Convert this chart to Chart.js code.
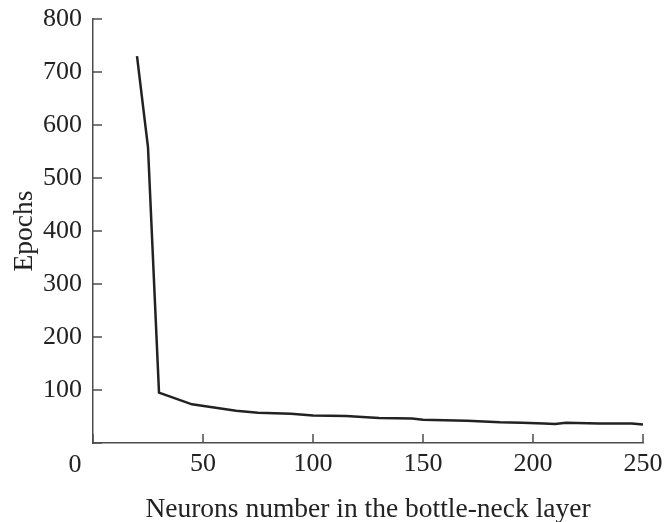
<!DOCTYPE html>
<html>
<head>
<meta charset="utf-8">
<script src="https://cdn.jsdelivr.net/npm/chart.js@4"></script>
<style>
  body { margin: 0; background: #fff; }
  #wrap { width: 665px; height: 522px; }
</style>
</head>
<body>
<div id="wrap"><canvas id="epochChart"></canvas></div>
<script>
// Data
const neurons = [20, 25, 30, 45, 55, 65, 75, 90, 100, 115, 130, 145, 150, 170, 175, 185, 195, 205, 210, 215, 230, 245, 250];
const epochs = [730, 558, 95, 73, 67, 61, 57, 55, 52, 51, 47, 46, 44, 42, 41, 39, 38, 37, 36, 38, 37, 37, 35];
const xTicks = [0, 50, 100, 150, 200, 250];
const yTicks = [0, 100, 200, 300, 400, 500, 600, 700, 800];

const axisColor = "#4d4d4d";
const textColor = "#222";
const serif = "'Liberation Serif', 'DejaVu Serif', serif";

// Draw tick marks pointing into the plot, plus the lone "0" at the corner
const innerTicks = {
  id: "innerTicks",
  afterDraw(chart) {
    const c = chart.ctx;
    const x = chart.scales.x;
    const y = chart.scales.y;
    const len = 9;
    c.save();
    c.strokeStyle = axisColor;
    c.lineWidth = 1.5;
    c.beginPath();
    xTicks.forEach((v) => {
      const px = x.getPixelForValue(v);
      c.moveTo(px, y.bottom);
      c.lineTo(px, y.bottom - len);
    });
    yTicks.forEach((v) => {
      const py = y.getPixelForValue(v);
      c.moveTo(x.left, py);
      c.lineTo(x.left + len, py);
    });
    c.stroke();
    c.fillStyle = textColor;
    c.font = "26px " + serif;
    c.textAlign = "center";
    c.textBaseline = "middle";
    c.fillText("0", x.getPixelForValue(0) - 18, y.bottom + 22);
    c.restore();
  },
};

const ctx = document.getElementById("epochChart").getContext("2d");
new Chart(ctx, {
  type: "line",
  data: {
    labels: neurons,
    datasets: [
      {
        data: neurons.map((n, i) => ({ x: n, y: epochs[i] })),
        borderColor: "#222",
        borderWidth: 2.5,
        pointRadius: 0,
        tension: 0,
        fill: false,
      },
    ],
  },
  options: {
    responsive: true,
    maintainAspectRatio: false,
    animation: false,
    layout: { padding: { left: 11, right: 22, top: 19, bottom: -2 } },
    plugins: { legend: { display: false }, tooltip: { enabled: false } },
    scales: {
      x: {
        type: "linear",
        min: 0,
        max: 250,
        afterBuildTicks: (s) => { s.ticks = xTicks.map((v) => ({ value: v })); },
        afterFit: (s) => { s.height = 81; s.paddingLeft = 0; s.paddingRight = 0; },
        grid: { display: false, drawTicks: false },
        border: { display: true, color: axisColor, width: 1.5 },
        ticks: {
          color: textColor,
          font: { family: serif, size: 26 },
          padding: 6,
          maxRotation: 0,
          callback: (v) => (v === 0 ? "" : v),
        },
        title: {
          display: true,
          text: "Neurons number in the bottle-neck layer",
          color: textColor,
          font: { family: serif, size: 27.5, lineHeight: 1 },
          padding: { top: 15, bottom: 0 },
        },
      },
      y: {
        min: 0,
        max: 800,
        afterBuildTicks: (s) => { s.ticks = yTicks.map((v) => ({ value: v })); },
        afterFit: (s) => { s.width = 82; s.paddingTop = 0; s.paddingBottom = 0; },
        grid: { display: false, drawTicks: false },
        border: { display: true, color: axisColor, width: 1.5 },
        ticks: {
          color: textColor,
          font: { family: serif, size: 26 },
          padding: 11,
          callback: (v) => (v === 0 ? "" : v),
        },
        title: {
          display: true,
          text: "Epochs",
          color: textColor,
          font: { family: serif, size: 27.5, lineHeight: 1 },
          padding: { top: 0, bottom: 4 },
        },
      },
    },
  },
  plugins: [innerTicks],
});
</script>
</body>
</html>
